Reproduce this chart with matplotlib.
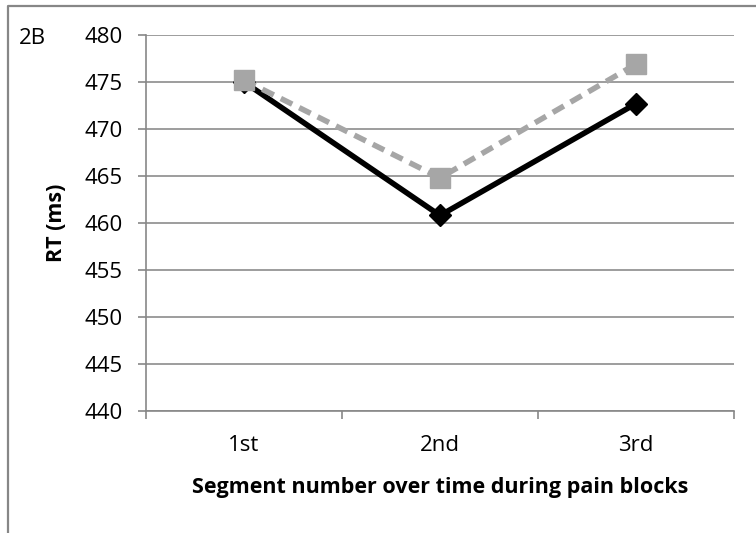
import matplotlib
matplotlib.use("Agg")
import matplotlib.pyplot as plt
from matplotlib.lines import Line2D

# Data
segments = ["1st", "2nd", "3rd"]
rt_black = [475.0, 460.8, 472.7]
rt_gray = [475.2, 464.8, 476.9]
y_ticks = [440, 445, 450, 455, 460, 465, 470, 475, 480]

plt.rcParams['font.family'] = ['Open Sans', 'DejaVu Sans']

fig = plt.figure(figsize=(7.56, 5.33), dpi=100)
ax = fig.add_axes([146 / 756, 1 - 411 / 533, (734 - 146) / 756, (411 - 35) / 533])

x = list(range(len(segments)))
ax.plot(x, rt_black, color='black', linewidth=4.0, marker='D', markersize=11.5,
        zorder=3)
ax.plot(x, rt_gray, color='#a6a6a6', linewidth=4.0, linestyle=(0, (2.3, 1.4)),
        marker='s', markersize=14, zorder=4)

ax.set_xlim(-0.5, len(segments) - 0.5)
ax.set_ylim(440, 480)
ax.set_yticks(y_ticks)
# category labels sit between the major ticks
ax.set_xticks(x, minor=True)
ax.set_xticklabels(segments, minor=True)
ax.set_xticks([-0.5, 0.5, 1.5, 2.5])
ax.set_xticklabels([])
ax.xaxis.set_tick_params(which='major', length=6, color='#878787', width=1.2)
ax.xaxis.set_tick_params(which='minor', length=0, pad=17, labelsize=16)
ax.yaxis.set_tick_params(length=6, color='#878787', width=1.2, labelsize=16, pad=11)

ax.grid(axis='y', color='#8c8c8c', linewidth=1.2)
ax.set_axisbelow(True)
for side in ['top', 'right']:
    ax.spines[side].set_visible(False)
for side in ['left', 'bottom']:
    ax.spines[side].set_color('#878787')
    ax.spines[side].set_linewidth(1.2)

fig.text(57 / 756, 1 - 223 / 533, "RT (ms)", rotation=90, ha='center', va='center',
         fontsize=15.5, fontweight='bold')
fig.text(440 / 756, 1 - 487 / 533, "Segment number over time during pain blocks",
         ha='center', va='center', fontsize=15.5, fontweight='bold')
fig.text(19 / 756, 1 - 39 / 533, "2B", ha='left', va='center', fontsize=16)

# outer frame (top and left edge of the figure box)
fig.add_artist(Line2D([8 / 756, 8 / 756, 1.0], [0.0, 1 - 6 / 533, 1 - 6 / 533],
                      transform=fig.transFigure, color='#878787', linewidth=1.6))

fig.savefig("out.png", dpi=100)
